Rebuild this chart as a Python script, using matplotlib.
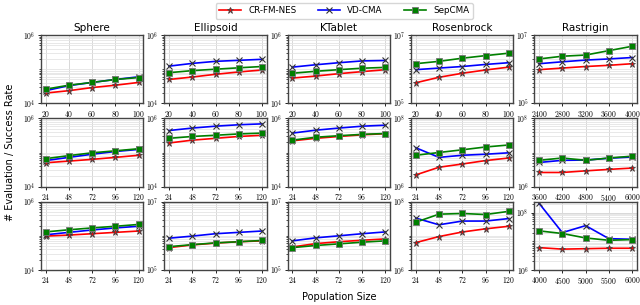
import numpy as np
import matplotlib
matplotlib.use("Agg")
import matplotlib.pyplot as plt
from matplotlib.ticker import FuncFormatter, LogLocator, NullFormatter

plt.rcParams['mathtext.fontset'] = 'cm'
plt.rcParams['font.family'] = 'DejaVu Sans'

funcs = ['Sphere', 'Ellipsoid', 'KTablet', 'Rosenbrock', 'Rastrigin']

# population sizes (x axis), per row; Rastrigin has its own
pop_row1 = [20, 40, 60, 80, 100]
pop_row2 = [24, 48, 72, 96, 120]
pop_row3 = [24, 48, 72, 96, 120]
rastrigin_pop = [[2400, 2800, 3200, 3600, 4000],
                 [3600, 4200, 4800, 5400, 6000],
                 [4000, 4500, 5000, 5500, 6000]]

# y limits (exponents) per row and function
ylim_row1 = [(4, 6), (4, 6), (4, 6), (5, 7), (5, 7)]
ylim_row2 = [(4, 6), (4, 6), (4, 6), (6, 8), (6, 8)]
ylim_row3 = [(4, 6), (5, 7), (5, 7), (6, 8), (6, 8.38)]

# evaluations / success rate, rows 1..3, one list per function
crfmnes_row1 = [[2.0e4, 2.35e4, 2.9e4, 3.4e4, 4.1e4],
                 [5.0e4, 5.9e4, 7.1e4, 8.3e4, 9.5e4],
                 [5.5e4, 6.3e4, 7.4e4, 8.5e4, 9.7e4],
                 [4.0e5, 5.8e5, 7.6e5, 9.5e5, 1.15e6],
                 [9.7e5, 1.08e6, 1.2e6, 1.3e6, 1.45e6]]
vdcma_row1 = [[2.35e4, 3.3e4, 4.1e4, 5.0e4, 6.0e4],
              [1.23e5, 1.48e5, 1.7e5, 1.82e5, 1.95e5],
              [1.15e5, 1.35e5, 1.55e5, 1.75e5, 1.8e5],
              [9.7e5, 1.08e6, 1.2e6, 1.38e6, 1.55e6],
              [1.45e6, 1.65e6, 1.85e6, 2.0e6, 2.2e6]]
sepcma_row1 = [[2.6e4, 3.4e4, 4.1e4, 5.0e4, 5.7e4],
               [7.9e4, 9.1e4, 1.0e5, 1.1e5, 1.2e5],
               [7.6e4, 8.7e4, 9.7e4, 1.07e5, 1.13e5],
               [1.45e6, 1.7e6, 2.1e6, 2.5e6, 2.95e6],
               [2.0e6, 2.4e6, 2.6e6, 3.5e6, 4.7e6]]

crfmnes_row2 = [[5.0e4, 5.6e4, 6.3e4, 7.2e4, 8.3e4],
                [1.9e5, 2.3e5, 2.6e5, 2.95e5, 3.2e5],
                [2.2e5, 2.6e5, 2.95e5, 3.3e5, 3.55e5],
                [2.2e6, 3.7e6, 4.6e6, 5.8e6, 6.9e6],
                [2.6e6, 2.6e6, 2.9e6, 3.2e6, 3.5e6]]
vdcma_row2 = [[5.8e4, 7.2e4, 8.9e4, 1.07e5, 1.23e5],
              [4.4e5, 5.2e5, 5.9e5, 6.5e5, 6.9e5],
              [3.7e5, 4.5e5, 5.2e5, 5.9e5, 6.3e5],
              [1.38e7, 7.2e6, 8.3e6, 8.9e6, 9.8e6],
              [5.1e6, 5.9e6, 6.0e6, 6.8e6, 7.4e6]]
sepcma_row2 = [[6.6e4, 8.1e4, 9.8e4, 1.12e5, 1.29e5],
               [2.6e5, 2.95e5, 3.2e5, 3.5e5, 3.7e5],
               [2.3e5, 2.8e5, 3.1e5, 3.4e5, 3.6e5],
               [8.3e6, 1.0e7, 1.2e7, 1.45e7, 1.66e7],
               [5.9e6, 6.9e6, 5.9e6, 6.9e6, 7.8e6]]

crfmnes_row3 = [[9.8e4, 1.05e5, 1.15e5, 1.26e5, 1.38e5],
                [4.5e5, 5.4e5, 6.1e5, 6.7e5, 7.1e5],
                [4.7e5, 5.9e5, 6.7e5, 7.4e5, 8.1e5],
                [6.3e6, 9.5e6, 1.29e7, 1.6e7, 1.9e7],
                [6.0e6, 5.3e6, 5.5e6, 5.7e6, 5.7e6]]
vdcma_row3 = [[1.07e5, 1.26e5, 1.48e5, 1.7e5, 1.9e5],
              [8.5e5, 9.8e5, 1.15e6, 1.26e6, 1.38e6],
              [7.1e5, 8.7e5, 1.0e6, 1.15e6, 1.3e6],
              [3.3e7, 2.1e7, 2.7e7, 2.7e7, 3.2e7],
              [2.1e8, 2.0e7, 3.5e7, 1.23e7, 1.17e7]]
sepcma_row3 = [[1.3e5, 1.5e5, 1.7e5, 1.9e5, 2.15e5],
               [4.8e5, 5.5e5, 6.2e5, 6.7e5, 7.3e5],
               [4.5e5, 5.2e5, 5.8e5, 6.5e5, 7.1e5],
               [2.5e7, 4.3e7, 4.5e7, 4.2e7, 5.2e7],
               [2.3e7, 1.86e7, 1.3e7, 1.08e7, 1.14e7]]

rows = [(pop_row1, ylim_row1, crfmnes_row1, vdcma_row1, sepcma_row1),
        (pop_row2, ylim_row2, crfmnes_row2, vdcma_row2, sepcma_row2),
        (pop_row3, ylim_row3, crfmnes_row3, vdcma_row3, sepcma_row3)]

fig, axes = plt.subplots(3, 5, figsize=(6.4, 3.05), dpi=100)
fig.subplots_adjust(left=0.064, right=0.995, top=0.885, bottom=0.115,
                    wspace=0.205, hspace=0.22)

for r, (pop, ylims, cr, vd, sep) in enumerate(rows):
    for c in range(5):
        ax = axes[r, c]
        x = rastrigin_pop[r] if c == 4 else pop
        l1, = ax.plot(x, cr[c], '-', color='red', lw=1.2, marker='*', ms=4.5,
                      mec='#444444', mew=0.6, label='CR-FM-NES')
        l2, = ax.plot(x, vd[c], '-', color='blue', lw=1.2, marker='x', ms=4.5,
                      mec='#333333', mew=0.8, label='VD-CMA')
        l3, = ax.plot(x, sep[c], '-', color='green', lw=1.2, marker='s', ms=4.5,
                      mec='#777777', mew=0.6, label='SepCMA')
        ax.set_yscale('log')
        lo, hi = ylims[c]
        ax.set_ylim(10 ** lo, 10 ** hi)
        ax.set_yticks([10 ** lo, 10 ** int(np.floor(hi))])
        ax.yaxis.set_major_formatter(FuncFormatter(
            lambda v, p: r'$10^{%d}$' % round(np.log10(v))))
        ax.yaxis.set_minor_locator(LogLocator(base=10, subs=np.arange(1, 10), numticks=20))
        ax.yaxis.set_minor_formatter(NullFormatter())
        ax.set_xticks(x)
        ax.xaxis.set_major_formatter(FuncFormatter(lambda v, p: r'$%d$' % v))
        span = x[-1] - x[0]
        ax.set_xlim(x[0] - 0.05 * span, x[-1] + 0.05 * span)
        ax.grid(True, which='major', color='#d8d8d8', lw=0.7)
        ax.grid(True, which='minor', axis='y', color='#e4e4e4', lw=0.6)
        ax.set_axisbelow(True)
        ax.tick_params(labelsize=5.5, length=2.5, width=0.6, pad=1.5)
        ax.tick_params(which='minor', length=1.5, width=0.5)
        for s in ax.spines.values():
            s.set_color('#444444')
            s.set_linewidth(1.0)
        if r == 0:
            ax.set_title(funcs[c], fontsize=7.5, pad=3)

fig.legend([l1, l2, l3], ['CR-FM-NES', 'VD-CMA', 'SepCMA'], loc='upper center',
           bbox_to_anchor=(0.538, 1.005), ncol=3, fontsize=6.3, frameon=True,
           handlelength=2.5, columnspacing=2.5, borderpad=0.4)
fig.text(0.008, 0.5, '# Evaluation / Success Rate', rotation=90, va='center',
         ha='left', fontsize=7)
fig.text(0.53, 0.01, 'Population Size', ha='center', va='bottom', fontsize=7)

fig.savefig('out.png', dpi=100)
